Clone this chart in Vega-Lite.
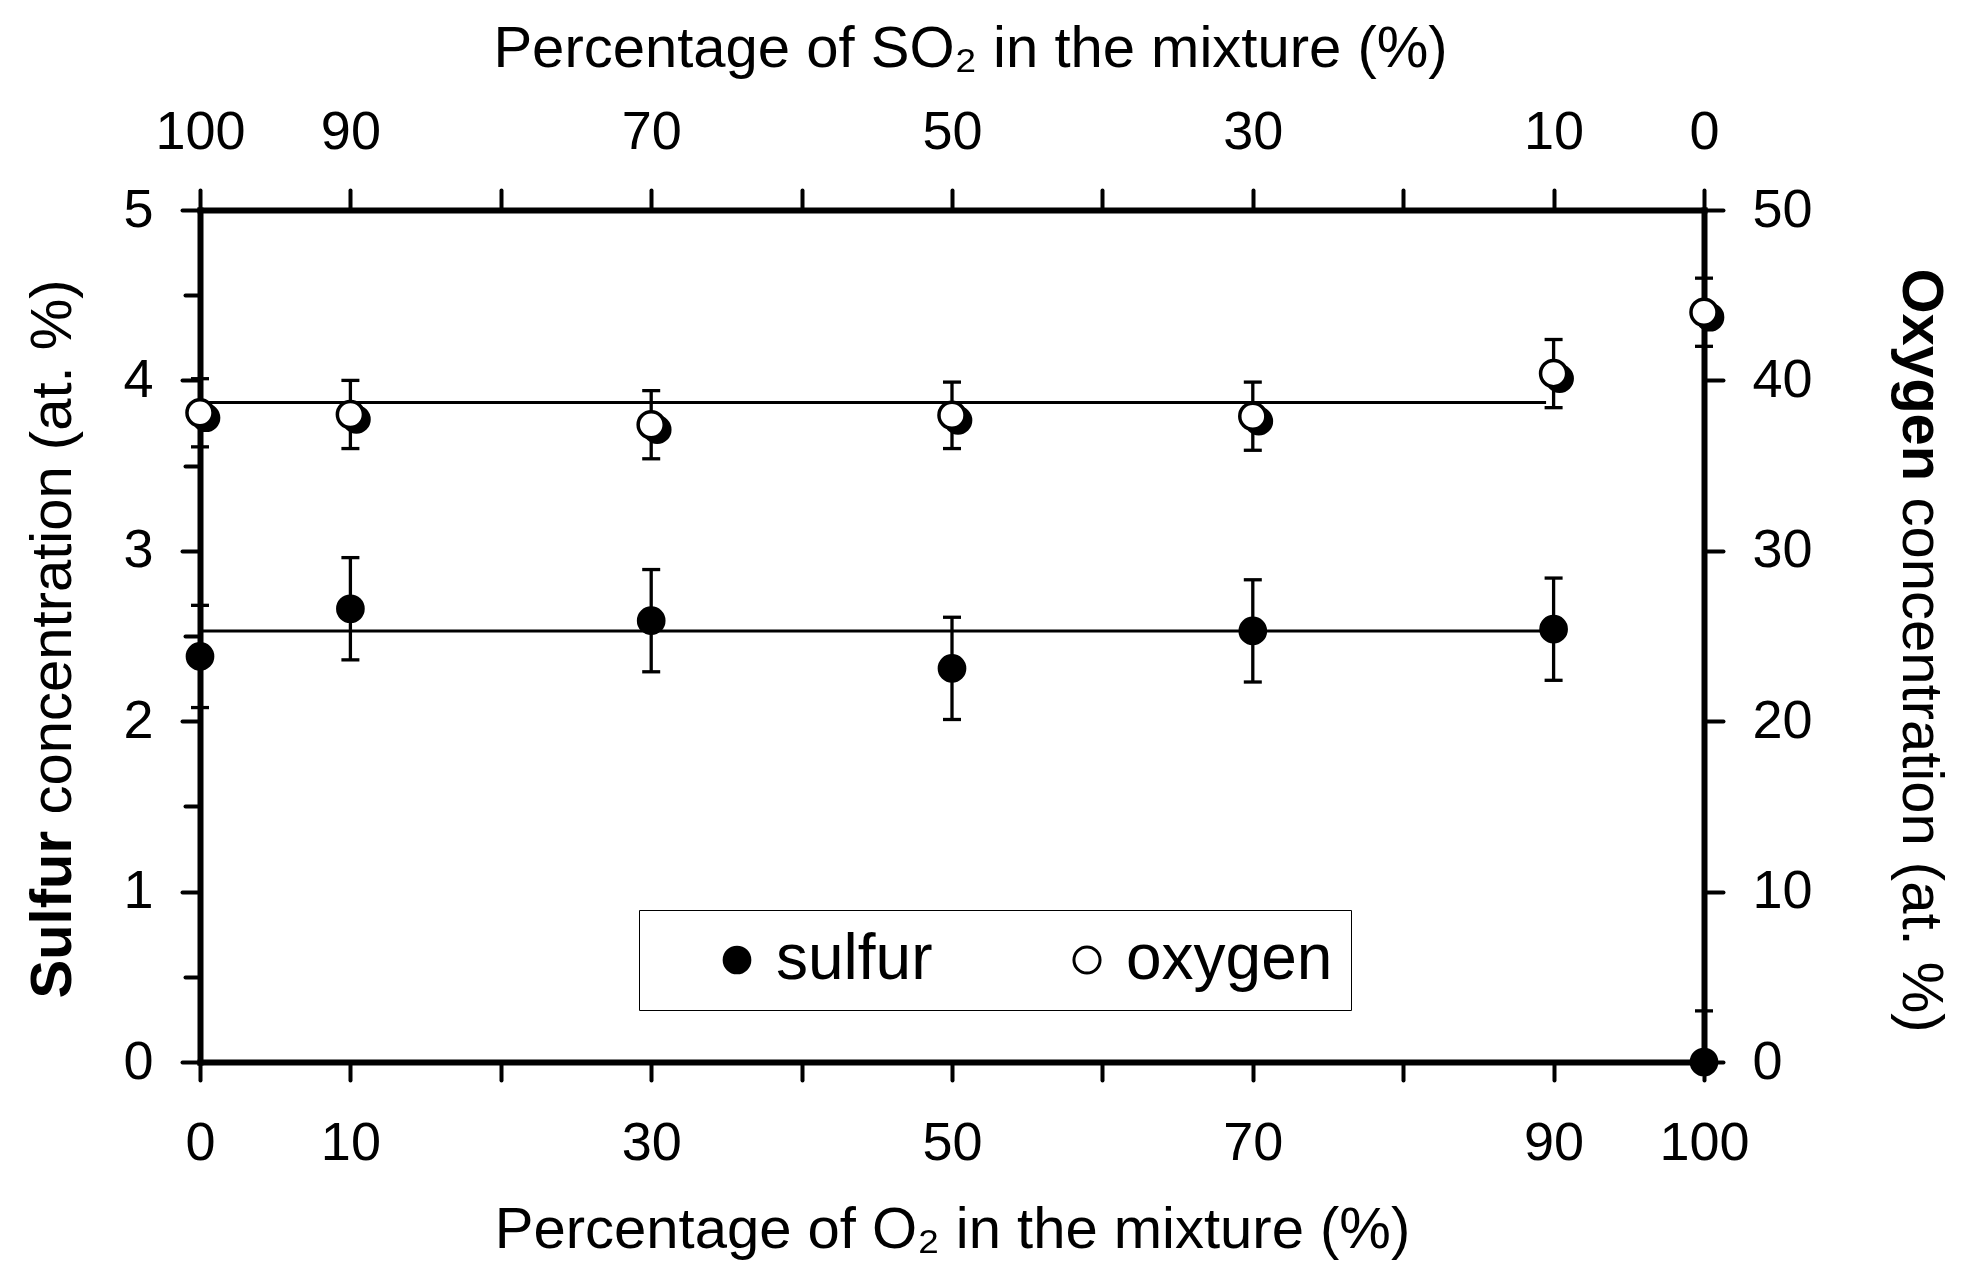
{
  "$schema": "https://vega.github.io/schema/vega-lite/v6.json",
  "width": 1504,
  "height": 852,
  "autosize": {"type": "none"},
  "padding": {"left": 200, "top": 210, "right": 271, "bottom": 222},
  "background": "white",
  "config": {
    "font": "Liberation Sans",
    "view": {"stroke": null},
    "axis": {
      "grid": false,
      "domainColor": "black",
      "domainWidth": 6,
      "domainCap": "square",
      "tickColor": "black",
      "tickWidth": 4,
      "tickCap": "round",
      "labelColor": "black",
      "labelFont": "Liberation Sans",
      "labelFontSize": 54,
      "labelFlush": false,
      "labelOverlap": false,
      "labelBound": false,
      "titleColor": "black",
      "titleFont": "Liberation Sans",
      "titleFontSize": 58,
      "titleFontWeight": "normal"
    }
  },
  "datasets": {
    "sulfur": [
      {"o2": 0, "series": "sulfur", "value": 2.38, "lo": 2.08, "hi": 2.68},
      {"o2": 10, "series": "sulfur", "value": 2.66, "lo": 2.36, "hi": 2.96},
      {"o2": 30, "series": "sulfur", "value": 2.59, "lo": 2.29, "hi": 2.89},
      {"o2": 50, "series": "sulfur", "value": 2.31, "lo": 2.01, "hi": 2.61},
      {"o2": 70, "series": "sulfur", "value": 2.53, "lo": 2.23, "hi": 2.83},
      {"o2": 90, "series": "sulfur", "value": 2.54, "lo": 2.24, "hi": 2.84},
      {"o2": 100, "series": "sulfur", "value": 0, "lo": 0, "hi": 0.3}
    ],
    "oxygen": [
      {"o2": 0, "series": "oxygen", "value": 38.1, "lo": 36.1, "hi": 40.1},
      {"o2": 10, "series": "oxygen", "value": 38.0, "lo": 36.0, "hi": 40.0},
      {"o2": 30, "series": "oxygen", "value": 37.4, "lo": 35.4, "hi": 39.4},
      {"o2": 50, "series": "oxygen", "value": 37.95, "lo": 36.0, "hi": 39.9},
      {"o2": 70, "series": "oxygen", "value": 37.9, "lo": 35.9, "hi": 39.9},
      {"o2": 90, "series": "oxygen", "value": 40.4, "lo": 38.4, "hi": 42.4},
      {"o2": 100, "series": "oxygen", "value": 44.0, "lo": 42.0, "hi": 46.0}
    ],
    "sulfurFit": [
      {"o2": 0, "value": 2.53},
      {"o2": 90, "value": 2.53}
    ],
    "oxygenFit": [
      {"o2": 0, "value": 38.7},
      {"o2": 89.5, "value": 38.7}
    ]
  },
  "layer": [
    {
      "encoding": {
        "x": {
          "field": "o2",
          "type": "quantitative",
          "scale": {"domain": [0, 100], "nice": false},
          "axis": {
            "orient": "bottom",
            "values": [0, 10, 20, 30, 40, 50, 60, 70, 80, 90, 100],
            "labelExpr": "indexof([0, 10, 30, 50, 70, 90, 100], datum.value) >= 0 ? datum.label : ''",
            "tickSize": 18,
            "labelBaseline": "alphabetic",
            "labelPadding": 79,
            "title": "Percentage of O₂ in the mixture (%)",
            "titleBaseline": "alphabetic",
            "titleY": 185
          }
        }
      },
      "layer": [
        {
          "data": {"name": "sulfurFit"},
          "mark": {"type": "line", "color": "black", "strokeWidth": 3},
          "encoding": {
            "y": {"field": "value", "type": "quantitative", "scale": {"domain": [0, 5], "nice": false}, "axis": null}
          }
        },
        {
          "data": {"name": "sulfur"},
          "mark": {"type": "rule", "color": "black", "strokeWidth": 3.3},
          "encoding": {
            "y": {
              "field": "lo",
              "type": "quantitative",
              "axis": {
                "orient": "left",
                "values": [0.5, 1.5, 2.5, 3.5, 4.5],
                "tickSize": 15,
                "labels": false,
                "domain": false,
                "title": "concentration (at. %)",
                "titleAngle": 270,
                "titleAlign": "left",
                "titleBaseline": "alphabetic",
                "titleX": -130,
                "titleY": 604
              }
            },
            "y2": {"field": "hi"}
          }
        },
        {
          "data": {"name": "sulfur"},
          "mark": {"type": "tick", "orient": "horizontal", "color": "black", "size": 18, "thickness": 3.3, "opacity": 1},
          "encoding": {"y": {"field": "lo", "type": "quantitative", "axis": null}}
        },
        {
          "data": {"name": "sulfur"},
          "mark": {"type": "tick", "orient": "horizontal", "color": "black", "size": 18, "thickness": 3.3, "opacity": 1},
          "encoding": {"y": {"field": "hi", "type": "quantitative", "axis": null}}
        },
        {
          "data": {"name": "sulfur"},
          "mark": {"type": "point", "shape": "circle", "filled": true, "strokeWidth": 3, "opacity": 1},
          "encoding": {
            "y": {
              "field": "value",
              "type": "quantitative",
              "axis": {
                "orient": "left",
                "values": [0, 1, 2, 3, 4, 5],
                "tickSize": 18,
                "labelPadding": 29,
                "title": "Sulfur",
                "titleFontWeight": "bold",
                "titleAngle": 270,
                "titleAlign": "left",
                "titleBaseline": "alphabetic",
                "titleX": -130,
                "titleY": 788
              }
            },
            "fill": {
              "field": "series",
              "type": "nominal",
              "scale": {"domain": ["sulfur", "oxygen"], "range": ["black", "white"]},
              "legend": {
                "title": null,
                "orient": "none",
                "legendX": 439,
                "legendY": 700,
                "direction": "horizontal",
                "strokeColor": "black",
                "padding": 18,
                "symbolType": "circle",
                "symbolStrokeWidth": 3,
                "symbolOffset": 48,
                "labelOffset": 7,
                "columnPadding": 74,
                "labelLimit": 500,
                "labelFont": "Liberation Sans",
                "labelFontSize": 64,
                "labelColor": "black"
              }
            },
            "stroke": {
              "field": "series",
              "type": "nominal",
              "scale": {"domain": ["sulfur", "oxygen"], "range": ["black", "black"]},
              "legend": {
                "title": null,
                "orient": "none",
                "legendX": 439,
                "legendY": 700,
                "direction": "horizontal",
                "strokeColor": "black",
                "padding": 18,
                "symbolType": "circle",
                "symbolStrokeWidth": 3,
                "symbolOffset": 48,
                "labelOffset": 7,
                "columnPadding": 74,
                "labelLimit": 500,
                "labelFont": "Liberation Sans",
                "labelFontSize": 64,
                "labelColor": "black"
              }
            },
            "size": {
              "field": "series",
              "type": "nominal",
              "scale": {"domain": ["sulfur", "oxygen"], "range": [660, 680]},
              "legend": {
                "title": null,
                "orient": "none",
                "legendX": 439,
                "legendY": 700,
                "direction": "horizontal",
                "strokeColor": "black",
                "padding": 18,
                "symbolType": "circle",
                "symbolStrokeWidth": 3,
                "symbolOffset": 48,
                "labelOffset": 7,
                "columnPadding": 74,
                "labelLimit": 500,
                "labelFont": "Liberation Sans",
                "labelFontSize": 64,
                "labelColor": "black"
              }
            }
          }
        }
      ],
      "resolve": {"axis": {"y": "independent"}}
    },
    {
      "encoding": {
        "x": {
          "field": "o2",
          "type": "quantitative",
          "axis": {
            "orient": "top",
            "values": [0, 10, 20, 30, 40, 50, 60, 70, 80, 90, 100],
            "labelExpr": "indexof([0, 10, 30, 50, 70, 90, 100], datum.value) >= 0 ? format(100 - datum.value, 'd') : ''",
            "tickSize": 20,
            "labelBaseline": "alphabetic",
            "labelPadding": 42,
            "title": "Percentage of SO₂ in the mixture (%)",
            "titleBaseline": "alphabetic",
            "titleX": 770,
            "titleY": -144
          }
        }
      },
      "layer": [
        {
          "data": {"name": "oxygenFit"},
          "mark": {"type": "line", "color": "black", "strokeWidth": 3},
          "encoding": {
            "y": {"field": "value", "type": "quantitative", "scale": {"domain": [0, 50], "nice": false}, "axis": null}
          }
        },
        {
          "data": {"name": "oxygen"},
          "mark": {"type": "rule", "color": "black", "strokeWidth": 3.3},
          "encoding": {
            "y": {
              "field": "lo",
              "type": "quantitative",
              "axis": {
                "orient": "right",
                "ticks": false,
                "labels": false,
                "domain": false,
                "title": "concentration (at. %)",
                "titleAngle": 90,
                "titleAlign": "left",
                "titleBaseline": "alphabetic",
                "titleX": 198,
                "titleY": 287
              }
            },
            "y2": {"field": "hi"}
          }
        },
        {
          "data": {"name": "oxygen"},
          "mark": {"type": "tick", "orient": "horizontal", "color": "black", "size": 18, "thickness": 3.3, "opacity": 1},
          "encoding": {"y": {"field": "lo", "type": "quantitative", "axis": null}}
        },
        {
          "data": {"name": "oxygen"},
          "mark": {"type": "tick", "orient": "horizontal", "color": "black", "size": 18, "thickness": 3.3, "opacity": 1},
          "encoding": {"y": {"field": "hi", "type": "quantitative", "axis": null}}
        },
        {
          "data": {"name": "oxygen"},
          "mark": {"type": "point", "shape": "circle", "filled": true, "color": "black", "stroke": "black", "strokeWidth": 3, "size": 660, "opacity": 1, "xOffset": 6, "yOffset": 5},
          "encoding": {"y": {"field": "value", "type": "quantitative", "axis": null}}
        },
        {
          "data": {"name": "oxygen"},
          "mark": {"type": "point", "shape": "circle", "filled": true, "strokeWidth": 3.5, "opacity": 1},
          "encoding": {
            "y": {
              "field": "value",
              "type": "quantitative",
              "axis": {
                "orient": "right",
                "values": [0, 10, 20, 30, 40, 50],
                "tickSize": 19,
                "labelPadding": 29,
                "title": "Oxygen",
                "titleFontWeight": "bold",
                "titleAngle": 90,
                "titleAlign": "left",
                "titleBaseline": "alphabetic",
                "titleX": 198,
                "titleY": 58
              }
            },
            "fill": {"field": "series", "type": "nominal"},
            "stroke": {"field": "series", "type": "nominal"},
            "size": {"field": "series", "type": "nominal"}
          }
        }
      ],
      "resolve": {"axis": {"y": "independent"}}
    }
  ],
  "resolve": {"scale": {"y": "independent"}, "axis": {"x": "independent"}}
}
